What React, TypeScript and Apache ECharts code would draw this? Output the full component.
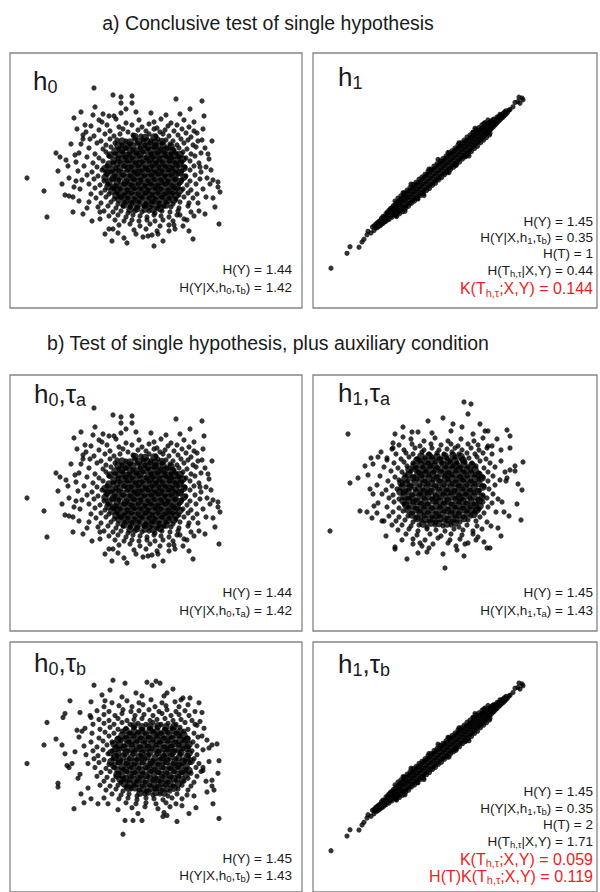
import React, { useEffect, useRef } from "react";
import * as echarts from "echarts";

// ---------- titles & labels ----------
const titleA = "a) Conclusive test of single hypothesis";
const titleB = "b) Test of single hypothesis, plus auxiliary condition";
const panelLabels = ["h_0", "h_1", "h_0,τ_a", "h_1,τ_a", "h_0,τ_b", "h_1,τ_b"];

const notesP1 = ["H(Y) = 1.44", "H(Y|X,h_0,τ_b) = 1.42"];
const notesP2 = ["H(Y) = 1.45", "H(Y|X,h_1,τ_b) = 0.35", "H(T) = 1", "H(T_{h,τ}|X,Y) = 0.44"];
const redP2 = ["K(T_{h,τ};X,Y) = 0.144"];
const notesP3 = ["H(Y) = 1.44", "H(Y|X,h_0,τ_a) = 1.42"];
const notesP4 = ["H(Y) = 1.45", "H(Y|X,h_1,τ_a) = 1.43"];
const notesP5 = ["H(Y) = 1.45", "H(Y|X,h_0,τ_b) = 1.43"];
const notesP6 = ["H(Y) = 1.45", "H(Y|X,h_1,τ_b) = 0.35", "H(T) = 2", "H(T_{h,τ}|X,Y) = 1.71"];
const redP6 = ["K(T_{h,τ};X,Y) = 0.059", "H(T)K(T_{h,τ};X,Y) = 0.119"];

// ---------- data: cloud A (h0 and h0,τa) ----------
const cloudAOut = [
  [-5.1,8.7],[-3.2,8.0],[-2.4,7.8],[-2.4,7.2],[-1.3,7.9],[-1.3,7.2],[3.1,7.6],[5.7,7.4],[4.5,6.6],[-6.4,6.3],[-7.1,5.7],
  [-5.2,6.0],[-4.2,6.1],[-3.6,5.9],[-3.1,5.9],[-2.4,6.2],[-11.8,-0.3],[-10.1,-1.6],[-9.8,-4.2],[-8.9,2.2],[-8.5,1.8],
  [-7.9,1.5],[-8.7,0.4],[-8.3,-0.9],[-7.2,-3.7],[-8.0,-2.0],[-7.6,-2.1],[-7.2,-2.2],[5.2,4.2],[5.8,4.6],[6.0,2.7],
  [5.5,0.8],[6.2,-0.3],[6.8,-0.5],[7.3,-0.7],[7.3,-1.2],[7.5,-1.7],[6.8,-2.3],[7.0,-3.2],[7.4,-4.9],[4.8,-6.4],
  [1.8,-6.6],[0.7,-6.0],[0.3,-6.1],[-0.2,-6.2],[-1.8,-6.8],[-2.1,-6.3],[-4.5,-4.4],[3.8,-5.1],[5.3,-2.8],[3.2,-4.0],
  [-4.5,-3.7],[-6.9,-0.6],[-6.2,3.6],[6.4,1.6],[-5.8,-3.3],[4.9,-4.1],[2.4,-5.6],[-3.6,-5.4],
  [-6.8,4.6],[-7.4,3.1],[-7.7,0.9],[-7.1,-1.2],[-6.6,-2.6],[-5.3,-4.6],[-4.0,-5.9],[-2.7,-5.8],[-0.9,-5.9],[1.3,-5.9],
  [2.9,-5.0],[3.9,-4.4],[5.4,-3.6],[6.1,-2.2],[6.5,-0.9],[6.6,0.5],[6.3,2.1],[5.7,3.5],[4.9,5.3],[3.5,6.1],[2.1,6.0],
  [0.6,6.2],[-0.9,6.3],[-1.9,6.6],[-4.6,5.5],[-6.0,5.0],[-7.0,2.0],[-6.2,-3.9],[-3.3,-6.6],[4.4,-5.6],[6.0,-3.9],
  [5.9,5.9],[-5.0,6.8],[0.9,-7.1],[-7.6,-0.3],[6.7,3.4]
];
const cloudACore = [
  [-4.3,5.3],[-2.9,5.6],[-1.9,5.2],[-0.6,5.5],[0.9,5.3],[1.6,5.6],[2.6,5.2],[3.9,5.5],
  [-5.4,4.9],[-3.8,5.0],[-2.6,4.8],[-1.3,5.0],[-0.3,4.8],[0.4,5.1],[1.2,4.7],[2.3,4.9],[3.2,5.0],[4.4,4.8],
  [-5.9,4.3],[-4.6,4.5],[-3.5,4.4],[-2.2,4.6],[-1.7,4.3],[-0.7,4.5],[0.1,4.4],[0.9,4.6],[1.5,4.3],[2.0,4.5],[2.9,4.4],[3.7,4.6],[4.9,4.4],
  [-6.2,4.0],[-5.1,3.9],[-4.0,4.1],[-3.1,3.9],[-2.5,4.1],[-1.2,4.0],[-0.4,3.9],[0.4,4.1],[1.1,3.9],[1.8,4.1],[2.4,3.9],[3.3,4.0],[4.1,4.2],[4.6,3.8],
  [-5.5,3.6],[-4.4,3.4],[-3.5,3.6],[-2.8,3.5],[-1.9,3.4],[-1.0,3.6],[-0.2,3.5],[0.6,3.4],[1.3,3.6],[2.1,3.5],[2.8,3.4],[3.6,3.6],[4.3,3.5],[5.3,3.4],
  [-6.4,3.1],[-4.8,3.2],[-3.9,3.0],[-3.0,3.2],[-2.3,3.0],[-1.5,3.1],[-0.8,3.2],[0.0,3.0],[0.5,3.2],[1.2,3.0],[1.7,3.2],[2.5,3.1],[3.2,3.0],[3.9,3.2],[4.8,3.0],
  [-5.6,2.7],[-4.2,2.6],[-3.4,2.8],[-2.6,2.6],[-1.9,2.7],[-1.2,2.5],[-0.5,2.7],[0.3,2.6],[0.9,2.8],[1.5,2.6],[2.2,2.7],[2.9,2.5],[3.4,2.7],[4.2,2.6],[5.1,2.8],
  [-6.6,2.2],[-5.0,2.1],[-3.9,2.3],[-3.0,2.1],[-2.2,2.3],[-1.6,2.1],[-0.9,2.2],[-0.2,2.3],[0.6,2.1],[1.2,2.2],[1.9,2.3],[2.6,2.1],[3.1,2.2],[3.8,2.3],[4.6,2.1],[5.6,2.2],
  [-5.8,1.8],[-4.6,1.7],[-3.6,1.9],[-2.7,1.7],[-2.0,1.8],[-1.3,1.7],[-0.6,1.9],[0.1,1.7],[0.8,1.8],[1.4,1.7],[2.1,1.9],[2.7,1.7],[3.4,1.8],[4.1,1.7],[5.0,1.9],
  [-6.9,1.3],[-5.2,1.2],[-4.2,1.4],[-3.2,1.2],[-2.5,1.3],[-1.8,1.4],[-1.0,1.2],[-0.3,1.3],[0.4,1.4],[1.1,1.2],[1.7,1.3],[2.4,1.4],[3.0,1.2],[3.7,1.3],[4.5,1.4],[5.4,1.2],
  [-6.1,0.9],[-4.8,0.8],[-3.8,0.9],[-2.9,0.7],[-2.1,0.9],[-1.4,0.8],[-0.7,0.9],[0.0,0.7],[0.7,0.9],[1.4,0.8],[2.0,0.9],[2.7,0.7],[3.3,0.9],[4.0,0.8],[4.9,0.9],[6.1,0.8],
  [-6.7,0.4],[-5.3,0.3],[-4.3,0.5],[-3.4,0.3],[-2.6,0.4],[-1.8,0.5],[-1.1,0.3],[-0.4,0.4],[0.3,0.5],[1.0,0.3],[1.7,0.4],[2.3,0.5],[3.0,0.3],[3.7,0.4],[4.5,0.5],[5.6,0.3],
  [-5.8,0.0],[-4.7,-0.1],[-3.8,0.1],[-3.0,-0.1],[-2.2,0.0],[-1.5,-0.1],[-0.8,0.1],[-0.1,-0.1],[0.6,0.0],[1.3,0.1],[2.0,-0.1],[2.6,0.0],[3.3,0.1],[4.1,-0.1],[5.0,0.0],
  [-6.3,-0.5],[-5.1,-0.4],[-4.1,-0.6],[-3.3,-0.4],[-2.6,-0.5],[-1.8,-0.6],[-1.1,-0.4],[-0.4,-0.5],[0.3,-0.6],[0.9,-0.4],[1.6,-0.5],[2.3,-0.6],[3.0,-0.4],[3.7,-0.5],[4.5,-0.6],[5.5,-0.4],
  [-5.6,-0.9],[-4.5,-1.0],[-3.7,-0.9],[-2.9,-1.1],[-2.1,-0.9],[-1.4,-1.0],[-0.7,-0.9],[0.0,-1.1],[0.6,-0.9],[1.3,-1.0],[2.0,-0.9],[2.7,-1.1],[3.4,-0.9],[4.2,-1.0],[5.1,-0.9],
  [-6.5,-1.4],[-5.0,-1.3],[-4.0,-1.5],[-3.2,-1.3],[-2.5,-1.4],[-1.8,-1.5],[-1.1,-1.3],[-0.4,-1.4],[0.3,-1.5],[1.0,-1.3],[1.6,-1.4],[2.3,-1.5],[3.0,-1.3],[3.8,-1.4],[4.6,-1.5],[5.8,-1.4],
  [-5.4,-1.9],[-4.4,-1.8],[-3.6,-1.9],[-2.8,-1.8],[-2.1,-2.0],[-1.4,-1.8],[-0.7,-1.9],[0.0,-1.8],[0.7,-2.0],[1.3,-1.8],[2.0,-1.9],[2.7,-1.8],[3.4,-2.0],[4.3,-1.8],[5.2,-1.9],
  [-4.9,-2.3],[-3.9,-2.2],[-3.1,-2.4],[-2.4,-2.2],[-1.7,-2.3],[-1.0,-2.4],[-0.3,-2.2],[0.4,-2.3],[1.0,-2.4],[1.7,-2.2],[2.4,-2.3],[3.1,-2.4],[3.9,-2.2],[4.8,-2.3],
  [-5.6,-2.7],[-4.4,-2.8],[-3.4,-2.7],[-2.7,-2.9],[-2.0,-2.7],[-1.3,-2.8],[-0.6,-2.7],[0.1,-2.9],[0.7,-2.7],[1.4,-2.8],[2.1,-2.7],[2.8,-2.9],[3.5,-2.7],[4.4,-2.8],
  [-4.7,-3.2],[-3.7,-3.1],[-2.9,-3.3],[-2.2,-3.1],[-1.5,-3.2],[-0.8,-3.3],[-0.1,-3.1],[0.5,-3.2],[1.2,-3.3],[1.9,-3.1],[2.6,-3.2],[3.4,-3.3],[4.3,-3.1],
  [-4.1,-3.6],[-3.2,-3.7],[-2.4,-3.6],[-1.7,-3.8],[-1.0,-3.6],[-0.3,-3.7],[0.4,-3.6],[1.0,-3.8],[1.7,-3.6],[2.5,-3.7],[3.3,-3.6],[4.6,-3.7],
  [-3.6,-4.1],[-2.7,-4.0],[-1.9,-4.2],[-1.2,-4.0],[-0.5,-4.1],[0.2,-4.2],[0.9,-4.0],[1.6,-4.1],[2.4,-4.2],[3.5,-4.0],
  [-3.0,-4.5],[-2.1,-4.6],[-1.3,-4.5],[-0.6,-4.6],[0.2,-4.5],[1.0,-4.6],[1.8,-4.5],[2.8,-4.6],[4.2,-4.5],
  [-2.6,-5.0],[-1.5,-4.9],[-0.5,-5.1],[0.5,-4.9],[1.5,-5.1],[2.4,-5.0],
  [-3.2,-5.4],[-1.1,-5.5],[0.1,-5.4],[1.2,-5.6],[3.0,-5.4]
];
const cloudAFill = [
  [-1.0,3.85],[0.0,3.75],[0.9,3.8],
  [-2.3,3.4],[-1.5,3.3],[-0.6,3.35],[0.2,3.4],[1.0,3.3],[1.7,3.35],
  [-2.7,2.95],[-1.9,2.85],[-1.2,2.9],[-0.4,2.95],[0.3,2.85],[1.0,2.9],[1.8,2.95],[2.6,2.85],
  [-3.0,2.4],[-2.3,2.5],[-1.5,2.45],[-0.8,2.4],[-0.1,2.5],[0.6,2.45],[1.3,2.4],[2.0,2.5],[2.7,2.45],
  [-3.5,2.0],[-2.6,2.05],[-1.9,1.95],[-1.2,2.0],[-0.5,2.05],[0.3,1.95],[0.9,2.0],[1.6,2.05],[2.3,1.95],[3.0,2.0],[3.5,2.05],
  [-3.1,1.5],[-2.3,1.6],[-1.6,1.55],[-0.9,1.5],[-0.2,1.6],[0.5,1.55],[1.1,1.5],[1.8,1.6],[2.5,1.55],[3.2,1.5],[3.8,1.6],
  [-3.6,1.1],[-2.8,1.15],[-2.0,1.05],[-1.3,1.1],[-0.6,1.15],[0.1,1.05],[0.8,1.1],[1.4,1.15],[2.1,1.05],[2.8,1.1],[3.5,1.15],
  [-4.0,0.65],[-3.3,0.6],[-2.5,0.7],[-1.7,0.65],[-1.0,0.6],[-0.3,0.7],[0.4,0.65],[1.0,0.6],[1.7,0.7],[2.4,0.65],[3.1,0.6],[3.9,0.7],
  [-3.8,0.2],[-3.0,0.25],[-2.2,0.15],[-1.4,0.2],[-0.7,0.25],[0.0,0.15],[0.7,0.2],[1.4,0.25],[2.0,0.15],[2.7,0.2],[3.5,0.25],
  [-4.0,-0.25],[-3.2,-0.3],[-2.5,-0.2],[-1.8,-0.25],[-1.1,-0.3],[-0.4,-0.2],[0.3,-0.25],[1.0,-0.3],[1.7,-0.2],[2.3,-0.25],[3.0,-0.3],[3.9,-0.2],
  [-3.6,-0.7],[-2.8,-0.65],[-2.0,-0.75],[-1.3,-0.7],[-0.6,-0.65],[0.1,-0.75],[0.8,-0.7],[1.5,-0.65],[2.1,-0.75],[2.8,-0.7],[3.5,-0.65],
  [-3.7,-1.15],[-3.1,-1.2],[-2.4,-1.1],[-1.7,-1.15],[-1.0,-1.2],[-0.3,-1.1],[0.4,-1.15],[1.1,-1.2],[1.8,-1.1],[2.5,-1.15],[3.2,-1.2],
  [-3.3,-1.6],[-2.7,-1.55],[-2.0,-1.65],[-1.3,-1.6],[-0.6,-1.55],[0.1,-1.65],[0.8,-1.6],[1.5,-1.55],[2.2,-1.65],[2.9,-1.6],[3.5,-1.55],
  [-2.9,-2.05],[-2.4,-2.1],[-1.7,-2.0],[-1.0,-2.05],[-0.3,-2.1],[0.4,-2.0],[1.1,-2.05],[1.8,-2.1],[2.5,-2.0],[3.1,-2.05],
  [-2.6,-2.45],[-1.9,-2.55],[-1.2,-2.5],[-0.5,-2.45],[0.2,-2.55],[0.9,-2.5],[1.6,-2.45],[2.3,-2.55],[2.9,-2.5],
  [-2.1,-3.0],[-1.4,-2.9],[-0.7,-2.95],[0.0,-3.0],[0.7,-2.9],[1.4,-2.95],[2.1,-3.0],
  [-1.5,-3.45],[-0.8,-3.35],[0.0,-3.4],[0.8,-3.45],[1.5,-3.35]
];

// ---------- data: cloud B (h1,τa) ----------
const cloudBOut = [
  [-11.2,-4.1],[-9.4,5.6],[-9.2,0.7],[2.2,8.8],[2.9,8.6],[2.6,7.6],[-1.4,6.9],[0.1,7.2],[-3.9,6.3],[1.1,6.6],[2.0,6.3],
  [3.8,6.6],[4.6,5.9],[6.5,6.0],[6.8,5.4],[5.9,4.0],[6.8,4.2],[8.1,2.8],[7.3,2.4],[7.3,1.9],[6.3,1.8],[6.5,1.2],
  [7.6,0.6],[8.0,0.0],[7.5,-1.4],[7.9,-3.0],[5.6,-3.8],[4.5,-5.8],[4.8,-5.8],[4.2,-5.2],[2.6,-5.3],[0.1,-6.4],
  [0.3,-7.8],[-1.5,-6.2],[-3.5,-6.9],[-4.7,-5.7],[-4.7,-5.9],[-2.9,-5.4],[-2.0,-5.6],[-5.0,-3.5],[-8.2,-2.1],
  [-7.5,-2.2],[-6.5,-2.3],[-7.7,2.4],[-7.1,3.2],[-6.4,3.3],[-5.5,3.0],[-8.4,1.2],[-7.4,1.5],[-4.9,4.2],[-4.7,5.6],
  [-3.9,5.3],[-6.9,-0.4],[-6.0,-3.1],[6.2,-2.2],[5.9,-4.6],[1.5,-6.0],[-2.4,5.8],[5.5,5.1],
  [-6.9,2.6],[-7.2,0.1],[-6.8,-1.6],[-5.8,-3.1],[-4.0,-5.0],[-1.3,-5.8],[1.4,-5.6],[3.6,-4.7],[4.9,-3.6],[6.0,-1.2],
  [6.4,0.9],[5.9,2.9],[5.0,4.4],[3.1,5.6],[0.9,5.9],[-1.0,5.7],[-3.0,5.8],[-4.9,4.7],[-6.1,3.8],[-7.0,-2.8],
  [6.7,-2.6],[-5.6,-4.6],[2.2,-6.6],[6.8,2.0],[-2.4,-6.3],[4.3,5.9]
];
const cloudBCore = [
  [-3.1,5.1],[-1.8,4.9],[-0.7,5.2],[0.6,4.9],[1.9,5.1],[3.2,4.9],[4.1,5.2],
  [-4.3,4.5],[-3.0,4.6],[-2.2,4.4],[-1.1,4.6],[-0.1,4.5],[0.9,4.6],[1.6,4.4],[2.6,4.6],[3.6,4.5],[4.6,4.4],
  [-5.0,4.1],[-3.8,4.0],[-2.7,4.2],[-1.8,4.0],[-1.0,4.2],[-0.3,4.0],[0.5,4.1],[1.3,4.2],[2.0,4.0],[2.9,4.2],[3.7,4.0],[4.5,4.2],
  [-4.6,3.6],[-3.6,3.7],[-2.9,3.6],[-2.0,3.8],[-1.3,3.6],[-0.5,3.7],[0.2,3.6],[1.0,3.8],[1.7,3.6],[2.5,3.7],[3.3,3.6],[4.1,3.7],[5.0,3.6],
  [-5.5,3.2],[-4.1,3.1],[-3.3,3.3],[-2.5,3.1],[-1.7,3.2],[-1.0,3.3],[-0.2,3.1],[0.5,3.2],[1.3,3.3],[2.0,3.1],[2.7,3.2],[3.5,3.3],[4.4,3.1],
  [-4.8,2.7],[-3.8,2.8],[-2.9,2.7],[-2.2,2.9],[-1.4,2.7],[-0.7,2.8],[0.0,2.7],[0.8,2.9],[1.5,2.7],[2.3,2.8],[3.0,2.7],[3.8,2.9],[4.8,2.7],
  [-5.8,2.3],[-4.4,2.2],[-3.5,2.4],[-2.6,2.2],[-1.9,2.3],[-1.1,2.4],[-0.4,2.2],[0.4,2.3],[1.1,2.4],[1.9,2.2],[2.6,2.3],[3.4,2.4],[4.2,2.2],[5.3,2.3],
  [-5.1,1.9],[-4.0,1.8],[-3.1,1.9],[-2.3,1.7],[-1.6,1.9],[-0.8,1.8],[-0.1,1.9],[0.7,1.7],[1.4,1.9],[2.2,1.8],[2.9,1.9],[3.7,1.7],[4.6,1.8],
  [-6.2,1.4],[-4.7,1.3],[-3.7,1.5],[-2.8,1.3],[-2.0,1.4],[-1.3,1.5],[-0.5,1.3],[0.3,1.4],[1.0,1.5],[1.8,1.3],[2.5,1.4],[3.3,1.5],[4.1,1.3],[5.1,1.4],
  [-5.4,0.9],[-4.3,1.0],[-3.4,0.9],[-2.5,1.1],[-1.7,0.9],[-0.9,1.0],[-0.2,0.9],[0.6,1.1],[1.4,0.9],[2.1,1.0],[2.9,0.9],[3.7,1.1],[4.6,0.9],[5.8,1.0],
  [-6.5,0.5],[-5.0,0.4],[-4.0,0.6],[-3.1,0.4],[-2.2,0.5],[-1.4,0.6],[-0.6,0.4],[0.2,0.5],[1.0,0.6],[1.7,0.4],[2.5,0.5],[3.3,0.6],[4.2,0.4],[5.3,0.5],
  [-5.6,0.0],[-4.5,0.1],[-3.6,-0.1],[-2.7,0.1],[-1.9,0.0],[-1.1,-0.1],[-0.3,0.1],[0.5,0.0],[1.3,-0.1],[2.1,0.1],[2.8,0.0],[3.7,-0.1],[4.7,0.1],
  [-6.0,-0.4],[-4.9,-0.5],[-3.9,-0.3],[-3.0,-0.5],[-2.2,-0.4],[-1.5,-0.3],[-0.7,-0.5],[0.1,-0.4],[0.9,-0.3],[1.7,-0.5],[2.4,-0.4],[3.2,-0.3],[4.1,-0.5],[5.1,-0.4],
  [-5.3,-0.8],[-4.3,-0.9],[-3.4,-0.8],[-2.6,-1.0],[-1.8,-0.8],[-1.0,-0.9],[-0.3,-0.8],[0.5,-1.0],[1.3,-0.8],[2.0,-0.9],[2.8,-0.8],[3.6,-1.0],[4.5,-0.8],[5.6,-0.9],
  [-6.4,-1.3],[-4.8,-1.2],[-3.8,-1.4],[-2.9,-1.2],[-2.1,-1.3],[-1.4,-1.4],[-0.6,-1.2],[0.2,-1.3],[0.9,-1.4],[1.7,-1.2],[2.4,-1.3],[3.2,-1.4],[4.1,-1.2],[5.0,-1.3],
  [-5.5,-1.7],[-4.3,-1.8],[-3.4,-1.7],[-2.5,-1.9],[-1.8,-1.7],[-1.0,-1.8],[-0.2,-1.7],[0.6,-1.9],[1.3,-1.7],[2.1,-1.8],[2.8,-1.7],[3.7,-1.9],[4.6,-1.7],
  [-4.9,-2.2],[-3.9,-2.1],[-3.0,-2.3],[-2.2,-2.1],[-1.4,-2.2],[-0.6,-2.3],[0.2,-2.1],[1.0,-2.2],[1.7,-2.3],[2.5,-2.1],[3.3,-2.2],[4.2,-2.3],[5.4,-2.2],
  [-5.3,-2.6],[-4.3,-2.7],[-3.4,-2.6],[-2.6,-2.8],[-1.8,-2.6],[-1.0,-2.7],[-0.3,-2.6],[0.5,-2.8],[1.3,-2.6],[2.1,-2.7],[2.9,-2.6],[3.8,-2.7],
  [-4.6,-3.1],[-3.7,-3.0],[-2.9,-3.2],[-2.1,-3.0],[-1.3,-3.1],[-0.6,-3.2],[0.2,-3.0],[1.0,-3.1],[1.8,-3.2],[2.6,-3.0],[3.4,-3.1],[4.5,-3.2],
  [-4.0,-3.5],[-3.1,-3.6],[-2.3,-3.5],[-1.5,-3.7],[-0.7,-3.5],[0.1,-3.6],[0.9,-3.5],[1.7,-3.7],[2.5,-3.5],[3.5,-3.6],
  [-4.4,-4.0],[-3.3,-3.9],[-2.4,-4.1],[-1.5,-3.9],[-0.6,-4.0],[0.3,-4.1],[1.2,-3.9],[2.1,-4.0],[3.1,-4.1],[4.0,-3.9],
  [-3.6,-4.4],[-2.5,-4.5],[-1.2,-4.4],[-0.1,-4.6],[0.9,-4.4],[2.0,-4.5],[3.1,-4.4],
  [-2.9,-4.9],[-1.7,-5.0],[-0.4,-4.8],[0.8,-5.0],[1.8,-4.9],[3.4,-5.0],
  [-2.2,-5.3],[-0.9,-5.4],[0.6,-5.3],[2.3,-5.4]
];
const cloudBFill = [
  [-2.1,3.4],[-1.3,3.45],[-0.5,3.35],[0.3,3.4],[1.1,3.45],[1.9,3.35],
  [-2.5,3.0],[-1.7,2.9],[-1.0,2.95],[-0.2,3.0],[0.6,2.9],[1.3,2.95],[2.1,3.0],
  [-2.8,2.45],[-2.1,2.55],[-1.4,2.5],[-0.7,2.45],[0.1,2.55],[0.8,2.5],[1.5,2.45],[2.2,2.55],[3.0,2.5],
  [-3.3,2.05],[-2.6,2.1],[-1.9,2.0],[-1.2,2.05],[-0.5,2.1],[0.3,2.0],[1.0,2.05],[1.7,2.1],[2.5,2.0],[3.3,2.05],
  [-3.3,1.55],[-2.4,1.65],[-1.7,1.6],[-0.9,1.55],[-0.1,1.65],[0.6,1.6],[1.4,1.55],[2.1,1.65],[2.9,1.6],[3.7,1.55],
  [-3.7,1.15],[-2.9,1.2],[-2.1,1.1],[-1.3,1.15],[-0.5,1.2],[0.3,1.1],[1.0,1.15],[1.8,1.2],[2.5,1.1],[3.3,1.15],[4.0,1.2],
  [-4.1,0.7],[-3.5,0.65],[-2.7,0.75],[-1.8,0.7],[-1.0,0.65],[-0.2,0.75],[0.6,0.7],[1.4,0.65],[2.1,0.75],[2.9,0.7],[3.7,0.65],
  [-4.0,0.25],[-3.2,0.3],[-2.3,0.2],[-1.5,0.25],[-0.7,0.3],[0.1,0.2],[0.9,0.25],[1.7,0.3],[2.4,0.2],[3.2,0.25],[4.1,0.3],
  [-4.2,-0.2],[-3.4,-0.15],[-2.6,-0.25],[-1.8,-0.2],[-1.1,-0.15],[-0.3,-0.25],[0.5,-0.2],[1.3,-0.15],[2.0,-0.25],[2.8,-0.2],[3.6,-0.15],
  [-3.8,-0.65],[-3.0,-0.7],[-2.2,-0.6],[-1.4,-0.65],[-0.6,-0.7],[0.2,-0.6],[0.9,-0.65],[1.7,-0.7],[2.4,-0.6],[3.2,-0.65],[4.0,-0.7],
  [-3.9,-1.1],[-3.3,-1.05],[-2.5,-1.15],[-1.7,-1.1],[-0.9,-1.05],[-0.2,-1.15],[0.6,-1.1],[1.4,-1.05],[2.1,-1.15],[2.9,-1.1],[3.7,-1.05],
  [-3.6,-1.55],[-2.9,-1.6],[-2.1,-1.5],[-1.4,-1.55],[-0.6,-1.6],[0.2,-1.5],[1.0,-1.55],[1.7,-1.6],[2.5,-1.5],[3.3,-1.55],[3.8,-1.6],
  [-3.4,-2.0],[-2.6,-1.95],[-1.8,-2.05],[-1.0,-2.0],[-0.2,-1.95],[0.6,-2.05],[1.4,-2.0],[2.1,-1.95],[2.9,-2.05],[3.5,-2.0],
  [-3.0,-2.5],[-2.2,-2.4],[-1.4,-2.45],[-0.6,-2.5],[0.1,-2.4],[0.9,-2.45],[1.7,-2.5],[2.5,-2.4],[3.2,-2.45],
  [-2.5,-2.85],[-1.7,-2.95],[-0.9,-2.9],[-0.2,-2.85],[0.6,-2.95],[1.4,-2.9],[2.2,-2.85],
  [-1.9,-3.4],[-1.1,-3.3],[-0.3,-3.35],[0.5,-3.4],[1.3,-3.3]
];

// ---------- data: cloud C (h0,τb) ----------
const cloudCOut = [
  [-12.1,-0.6],[-10.4,1.3],[-10.1,3.6],[-9.2,1.9],[-8.6,1.3],[-7.8,5.8],[-5.4,7.4],[-3.5,7.9],[-2.3,7.6],[-0.1,7.7],
  [0.4,7.4],[0.8,7.8],[1.2,7.6],[2.5,7.0],[3.5,6.1],[4.2,6.1],[-5.7,5.7],[-8.5,4.1],[-8.3,4.5],[5.4,4.6],[5.2,3.7],
  [4.9,3.3],[5.4,2.2],[5.9,1.8],[6.4,1.3],[6.9,1.4],[7.1,-0.3],[5.5,-1.0],[5.5,-1.3],[7.0,-1.6],[6.4,-2.3],[6.4,-2.9],
  [6.5,-4.7],[7.1,-6.2],[2.9,-6.5],[1.5,-6.0],[1.9,-5.9],[-0.6,-6.4],[-1.5,-6.4],[-2.3,-6.4],[-2.5,-7.8],[-7.4,-5.2],
  [-9.0,-2.6],[-9.0,-3.0],[-6.7,-3.7],[-8.1,-0.8],[-7.9,-1.0],[-8.3,0.4],[-5.0,-4.7],[-4.0,-4.7],[-6.6,2.7],
  [-7.0,-2.1],[-4.6,6.4],[1.9,6.6],[5.9,-3.5],[4.8,-5.1],[-5.7,-4.2],[-1.2,6.6],
  [-6.8,4.6],[-7.1,2.8],[-7.3,0.6],[-6.8,-1.7],[-6.0,-3.1],[-4.4,-4.1],[-3.0,-5.3],[-1.0,-5.7],[1.6,-5.6],[3.4,-4.9],
  [4.6,-3.9],[5.8,-2.4],[6.1,-0.4],[6.1,1.0],[5.6,3.0],[4.7,4.7],[3.3,5.9],[1.6,6.3],[-0.6,6.3],[-2.6,6.2],
  [-4.3,5.8],[-5.7,4.1],[-6.4,-4.6],[4.1,-5.7],[6.6,-3.3],[-7.6,-0.6],[5.1,5.6],[-3.8,6.9]
];
const cloudCCore = [
  [-3.6,5.6],[-2.1,5.8],[-0.9,5.6],[0.3,5.9],[1.4,5.6],[2.7,5.7],
  [-4.4,5.2],[-2.9,5.3],[-1.6,5.2],[-0.5,5.4],[0.7,5.2],[1.8,5.3],[3.1,5.2],[4.0,5.4],
  [-5.1,4.8],[-3.9,4.7],[-2.5,4.9],[-1.7,4.7],[-0.9,4.8],[0.1,4.9],[1.1,4.7],[1.9,4.9],[2.8,4.7],[3.7,4.8],
  [-5.8,4.3],[-4.4,4.4],[-3.3,4.3],[-2.6,4.5],[-1.3,4.3],[-0.4,4.4],[0.5,4.3],[1.4,4.5],[2.3,4.3],[3.1,4.4],[4.1,4.3],
  [-4.9,3.9],[-3.9,3.8],[-3.0,4.0],[-2.1,3.8],[-1.4,3.9],[-0.6,4.0],[0.2,3.8],[0.9,3.9],[1.7,4.0],[2.5,3.8],[3.3,3.9],[4.4,3.8],
  [-5.5,3.4],[-4.4,3.5],[-3.4,3.4],[-2.6,3.6],[-1.8,3.4],[-1.0,3.5],[-0.2,3.4],[0.5,3.6],[1.3,3.4],[2.0,3.5],[2.8,3.4],[3.7,3.6],[4.7,3.4],
  [-6.3,3.0],[-4.8,2.9],[-3.8,3.1],[-3.0,2.9],[-2.2,3.0],[-1.4,3.1],[-0.6,2.9],[0.2,3.0],[0.9,3.1],[1.7,2.9],[2.4,3.0],[3.2,3.1],[4.0,2.9],
  [-5.6,2.5],[-4.3,2.6],[-3.4,2.5],[-2.6,2.7],[-1.8,2.5],[-1.0,2.6],[-0.3,2.5],[0.5,2.7],[1.3,2.5],[2.0,2.6],[2.8,2.5],[3.6,2.7],[4.6,2.5],
  [-6.9,2.1],[-4.9,2.0],[-3.9,2.2],[-3.0,2.0],[-2.2,2.1],[-1.4,2.2],[-0.7,2.0],[0.1,2.1],[0.9,2.2],[1.6,2.0],[2.4,2.1],[3.2,2.2],[4.0,2.0],[5.0,2.1],
  [-5.7,1.6],[-4.5,1.7],[-3.6,1.6],[-2.7,1.8],[-1.9,1.6],[-1.1,1.7],[-0.3,1.6],[0.5,1.8],[1.2,1.6],[2.0,1.7],[2.8,1.6],[3.6,1.8],[4.5,1.6],
  [-6.4,1.2],[-5.1,1.1],[-4.1,1.3],[-3.2,1.1],[-2.4,1.2],[-1.6,1.3],[-0.8,1.1],[0.0,1.2],[0.8,1.3],[1.6,1.1],[2.4,1.2],[3.1,1.3],[4.0,1.1],[4.9,1.2],
  [-5.5,0.7],[-4.5,0.8],[-3.6,0.7],[-2.8,0.9],[-2.0,0.7],[-1.2,0.8],[-0.4,0.7],[0.4,0.9],[1.2,0.7],[2.0,0.8],[2.7,0.7],[3.5,0.9],[4.4,0.7],[5.5,0.8],
  [-6.2,0.3],[-5.0,0.2],[-4.0,0.4],[-3.1,0.2],[-2.3,0.3],[-1.5,0.4],[-0.7,0.2],[0.1,0.3],[0.9,0.4],[1.6,0.2],[2.4,0.3],[3.2,0.4],[4.0,0.2],[4.9,0.3],
  [-5.4,-0.1],[-4.4,-0.2],[-3.5,-0.1],[-2.7,-0.3],[-1.9,-0.1],[-1.1,-0.2],[-0.3,-0.1],[0.5,-0.3],[1.3,-0.1],[2.0,-0.2],[2.8,-0.1],[3.7,-0.3],[4.6,-0.1],
  [-6.0,-0.6],[-4.9,-0.5],[-3.9,-0.7],[-3.0,-0.5],[-2.2,-0.6],[-1.4,-0.7],[-0.6,-0.5],[0.2,-0.6],[1.0,-0.7],[1.7,-0.5],[2.5,-0.6],[3.3,-0.7],[4.2,-0.5],[5.1,-0.6],
  [-5.3,-1.0],[-4.2,-1.1],[-3.4,-1.0],[-2.5,-1.2],[-1.7,-1.0],[-0.9,-1.1],[-0.1,-1.0],[0.7,-1.2],[1.5,-1.0],[2.2,-1.1],[3.0,-1.0],[3.8,-1.2],[4.8,-1.0],
  [-4.7,-1.5],[-3.8,-1.4],[-2.9,-1.6],[-2.1,-1.4],[-1.3,-1.5],[-0.5,-1.6],[0.3,-1.4],[1.1,-1.5],[1.9,-1.6],[2.6,-1.4],[3.4,-1.5],[4.3,-1.6],[5.3,-1.4],
  [-5.1,-1.9],[-4.1,-2.0],[-3.2,-1.9],[-2.4,-2.1],[-1.6,-1.9],[-0.8,-2.0],[0.0,-1.9],[0.8,-2.1],[1.5,-1.9],[2.3,-2.0],[3.1,-1.9],[4.0,-2.1],[4.9,-1.9],
  [-4.4,-2.4],[-3.5,-2.3],[-2.7,-2.5],[-1.9,-2.3],[-1.1,-2.4],[-0.3,-2.5],[0.5,-2.3],[1.2,-2.4],[2.0,-2.5],[2.8,-2.3],[3.6,-2.4],[4.6,-2.5],
  [-4.8,-2.8],[-3.8,-2.9],[-3.0,-2.8],[-2.2,-3.0],[-1.4,-2.8],[-0.6,-2.9],[0.2,-2.8],[0.9,-3.0],[1.7,-2.8],[2.5,-2.9],[3.4,-2.8],[4.3,-2.9],
  [-4.2,-3.3],[-3.2,-3.2],[-2.5,-3.4],[-1.7,-3.2],[-0.9,-3.3],[-0.1,-3.4],[0.7,-3.2],[1.4,-3.3],[2.2,-3.4],[3.0,-3.2],[4.0,-3.3],
  [-3.6,-3.7],[-2.7,-3.8],[-1.9,-3.7],[-1.1,-3.9],[-0.3,-3.7],[0.5,-3.8],[1.2,-3.7],[2.0,-3.9],[2.9,-3.7],[3.9,-3.8],
  [-2.9,-4.2],[-2.0,-4.1],[-1.1,-4.3],[-0.2,-4.1],[0.6,-4.2],[1.5,-4.3],[2.4,-4.1],[3.4,-4.2],
  [-2.2,-4.6],[-1.2,-4.7],[-0.2,-4.6],[0.8,-4.7],[1.8,-4.6],[2.8,-4.7],
  [-1.6,-5.1],[-0.3,-5.0],[1.0,-5.2],[2.2,-5.0]
];
const cloudCFill = [
  [-1.4,3.25],[-0.6,3.15],[0.2,3.2],[1.0,3.25],[1.8,3.15],[2.6,3.2],
  [-2.2,2.8],[-1.4,2.7],[-0.6,2.75],[0.2,2.8],[0.9,2.7],[1.7,2.75],[2.5,2.8],[3.2,2.7],
  [-2.6,2.25],[-1.8,2.35],[-1.0,2.3],[-0.2,2.25],[0.6,2.35],[1.3,2.3],[2.1,2.25],[2.9,2.35],[3.6,2.3],
  [-3.0,1.85],[-2.2,1.9],[-1.5,1.8],[-0.7,1.85],[0.1,1.9],[0.9,1.8],[1.6,1.85],[2.4,1.9],[3.2,1.8],[3.9,1.85],
  [-3.4,1.4],[-2.8,1.35],[-2.0,1.45],[-1.2,1.4],[-0.4,1.35],[0.4,1.45],[1.2,1.4],[2.0,1.35],[2.7,1.45],[3.5,1.4],[4.1,1.35],
  [-3.2,0.95],[-2.4,1.0],[-1.6,0.9],[-0.8,0.95],[0.0,1.0],[0.8,0.9],[1.6,0.95],[2.3,1.0],[3.1,0.9],[3.9,0.95],
  [-3.7,0.5],[-3.0,0.45],[-2.2,0.55],[-1.4,0.5],[-0.6,0.45],[0.2,0.55],[1.0,0.5],[1.8,0.45],[2.5,0.55],[3.3,0.5],[4.1,0.45],
  [-3.3,0.05],[-2.5,0.1],[-1.7,0.0],[-0.9,0.05],[-0.1,0.1],[0.7,0.0],[1.5,0.05],[2.3,0.1],[3.1,0.0],[3.9,0.05],
  [-3.7,-0.4],[-2.9,-0.35],[-2.1,-0.45],[-1.3,-0.4],[-0.5,-0.35],[0.3,-0.45],[1.1,-0.4],[1.9,-0.35],[2.7,-0.45],[3.5,-0.4],[4.3,-0.35],
  [-3.4,-0.85],[-2.6,-0.9],[-1.8,-0.8],[-1.0,-0.85],[-0.2,-0.9],[0.6,-0.8],[1.4,-0.85],[2.2,-0.9],[3.0,-0.8],[3.8,-0.85],
  [-3.0,-1.3],[-2.2,-1.25],[-1.4,-1.35],[-0.6,-1.3],[0.2,-1.25],[1.0,-1.35],[1.8,-1.3],[2.6,-1.25],[3.4,-1.35],[4.1,-1.3],
  [-3.1,-1.75],[-2.6,-1.8],[-1.8,-1.7],[-1.0,-1.75],[-0.2,-1.8],[0.6,-1.7],[1.4,-1.75],[2.2,-1.8],[3.0,-1.7],[3.8,-1.75],
  [-2.8,-2.2],[-2.2,-2.15],[-1.4,-2.25],[-0.6,-2.2],[0.2,-2.15],[1.0,-2.25],[1.8,-2.2],[2.6,-2.15],[3.4,-2.25],
  [-2.4,-2.65],[-1.8,-2.7],[-1.0,-2.6],[-0.2,-2.65],[0.6,-2.7],[1.4,-2.6],[2.2,-2.65],[3.0,-2.7],
  [-2.0,-3.1],[-1.3,-3.05],[-0.5,-3.15],[0.3,-3.1],[1.1,-3.05],[1.9,-3.15],[2.6,-3.1],
  [-0.8,-3.6],[0.0,-3.5],[0.8,-3.55],[1.6,-3.6]
];

// ---------- data: line (h1 and h1,τb) ----------
const lineD = [
  [-10.9,-11.2],[-9.3,-9.5],[-9.0,-8.75],[-8.1,-8.8],[-7.8,-8.2],[-7.6,-7.9],[-7.3,-7.4],[-7.2,-7.0],[-6.9,-7.2],[-6.75,-6.5],
  [-6.6,-6.9],[-6.6,-6.4],[-6.45,-6.6],[-6.45,-6.2],[-6.3,-6.6],[-6.3,-6.05],[-6.15,-6.45],[-6.15,-5.9],[-6.0,-6.35],[-6.0,-5.8],[-6.0,-6.05],
  [-5.85,-6.2],[-5.85,-5.5],[-5.7,-6.1],[-5.7,-5.65],[-5.7,-5.3],[-5.55,-5.9],[-5.55,-5.35],[-5.4,-5.85],[-5.4,-5.3],[-5.4,-4.95],
  [-5.25,-5.6],[-5.25,-5.05],[-5.25,-4.8],[-5.1,-5.65],[-5.1,-5.05],[-5.1,-4.6],[-4.95,-5.3],[-4.95,-4.8],[-4.95,-4.4],
  [-4.8,-5.4],[-4.8,-4.85],[-4.8,-4.3],[-4.65,-5.1],[-4.65,-4.55],[-4.65,-4.05],[-4.5,-5.1],[-4.5,-4.6],[-4.5,-4.1],
  [-4.35,-4.8],[-4.35,-4.25],[-4.35,-3.75],[-4.2,-4.85],[-4.2,-4.3],[-4.2,-3.7],[-4.05,-4.6],[-4.05,-4.0],[-4.05,-3.45],
  [-3.9,-4.55],[-3.9,-3.95],[-3.9,-3.35],[-3.75,-4.3],[-3.75,-3.7],[-3.75,-3.15],[-3.6,-4.25],[-3.6,-3.55],[-3.6,-3.0],
  [-3.45,-4.1],[-3.45,-3.45],[-3.45,-2.85],[-3.3,-3.95],[-3.3,-3.25],[-3.3,-2.65],[-3.15,-3.8],[-3.15,-3.15],[-3.15,-2.5],
  [-3.0,-3.7],[-3.0,-3.05],[-3.0,-2.35],[-2.85,-3.5],[-2.85,-2.8],[-2.85,-2.2],[-2.7,-3.4],[-2.7,-2.75],[-2.7,-2.05],
  [-2.55,-3.2],[-2.55,-2.5],[-2.55,-1.9],[-2.4,-3.1],[-2.4,-2.45],[-2.4,-1.7],[-2.25,-2.95],[-2.25,-2.2],[-2.25,-1.6],
  [-2.1,-2.8],[-2.1,-2.15],[-2.1,-1.4],[-1.95,-2.6],[-1.95,-1.9],[-1.95,-1.3],[-1.8,-2.5],[-1.8,-1.85],[-1.8,-1.1],
  [-1.65,-2.35],[-1.65,-1.6],[-1.65,-0.95],[-1.5,-2.2],[-1.5,-1.55],[-1.5,-0.8],[-1.35,-2.05],[-1.35,-1.3],[-1.35,-0.65],
  [-1.2,-1.9],[-1.2,-1.25],[-1.2,-0.5],[-1.05,-1.75],[-1.05,-1.0],[-1.05,-0.35],[-0.9,-1.6],[-0.9,-0.95],[-0.9,-0.2],
  [-0.75,-1.45],[-0.75,-0.7],[-0.75,-0.05],[-0.6,-1.3],[-0.6,-0.65],[-0.6,0.1],[-0.45,-1.15],[-0.45,-0.4],[-0.45,0.25],
  [-0.3,-1.0],[-0.3,-0.35],[-0.3,0.4],[-0.15,-0.85],[-0.15,-0.1],[-0.15,0.55],[0,-0.7],[0,-0.05],[0,0.7],
  [0.15,-0.55],[0.15,0.2],[0.15,0.8],[0.3,-0.4],[0.3,0.25],[0.3,1.0],[0.45,-0.25],[0.45,0.5],[0.45,1.1],
  [0.6,-0.1],[0.6,0.55],[0.6,1.3],[0.75,0.05],[0.75,0.8],[0.75,1.4],[0.9,0.2],[0.9,0.85],[0.9,1.6],
  [1.05,0.35],[1.05,1.1],[1.05,1.7],[1.2,0.5],[1.2,1.15],[1.2,1.9],[1.35,0.65],[1.35,1.4],[1.35,2.0],
  [1.5,0.8],[1.5,1.45],[1.5,2.2],[1.65,0.95],[1.65,1.7],[1.65,2.3],[1.8,1.1],[1.8,1.75],[1.8,2.5],
  [1.95,1.3],[1.95,2.0],[1.95,2.6],[2.1,1.4],[2.1,2.05],[2.1,2.8],[2.25,1.6],[2.25,2.3],[2.25,2.9],
  [2.4,1.7],[2.4,2.35],[2.4,3.05],[2.55,1.9],[2.55,2.6],[2.55,3.2],[2.7,2.0],[2.7,2.65],[2.7,3.35],
  [2.85,2.2],[2.85,2.9],[2.85,3.45],[3.0,2.3],[3.0,2.95],[3.0,3.6],[3.15,2.5],[3.15,3.2],[3.15,3.75],
  [3.3,2.65],[3.3,3.25],[3.3,3.9],[3.45,2.85],[3.45,3.5],[3.45,4.0],[3.6,2.95],[3.6,3.55],[3.6,4.2],
  [3.75,3.15],[3.75,3.8],[3.75,4.3],[3.9,3.3],[3.9,3.85],[3.9,4.45],[4.05,3.5],[4.05,4.1],[4.05,4.6],
  [4.2,3.6],[4.2,4.15],[4.2,4.75],[4.35,3.8],[4.35,4.4],[4.35,4.85],[4.5,3.95],[4.5,4.45],[4.5,5.0],
  [4.65,4.15],[4.65,4.7],[4.65,5.15],[4.8,4.3],[4.8,4.75],[4.8,5.3],[4.95,4.5],[4.95,5.0],[4.95,5.4],
  [5.1,4.65],[5.1,5.05],[5.1,5.55],[5.25,4.85],[5.25,5.3],[5.25,5.7],[5.4,5.0],[5.4,5.35],[5.4,5.8],
  [5.55,5.2],[5.55,5.7],[5.7,5.35],[5.7,5.75],[5.7,6.05],[5.85,5.55],[5.85,6.0],[6.0,5.7],[6.0,6.1],[6.0,6.35],
  [6.15,5.9],[6.15,6.3],[6.3,6.0],[6.3,6.45],[6.45,6.2],[6.45,6.6],[6.6,6.35],[6.6,6.75],[6.75,6.55],[6.9,6.8],
  [7.0,6.9],[7.3,7.2],[7.5,7.7],[7.8,7.8],[8.0,7.6],[8.2,8.2],[8.3,8.0],[7.9,8.3],
  [-3.7,-2.6],[-1.1,0.1],[1.6,0.5],[3.3,4.3],[-2.2,-3.3],[0.8,2.0],[2.6,1.6],[4.4,5.3],[-4.4,-5.2],[5.0,4.2]
];
const lineDEdge = [
  [-4.5,-3.55],[-4.2,-3.2],[-3.9,-2.95],[-3.6,-2.6],[-3.3,-2.3],[-3.0,-2.0],[-2.7,-1.65],[-2.4,-1.4],[-2.1,-1.05],[-1.8,-0.8],
  [-1.5,-0.5],[-1.2,-0.15],[-0.9,0.1],[-0.6,0.45],[-0.3,0.7],[0.0,1.05],[0.3,1.3],[0.6,1.6],[0.9,1.95],[1.2,2.2],
  [1.5,2.5],[1.8,2.85],[2.1,3.1],[2.4,3.4],[2.7,3.75],[3.0,4.0],[3.3,4.3],[3.6,4.6],[3.9,4.85],[4.2,5.15],[4.5,5.4],[4.8,5.7],
  [-4.35,-5.3],[-4.05,-5.0],[-3.75,-4.75],[-3.45,-4.4],[-3.15,-4.15],[-2.85,-3.8],[-2.55,-3.55],[-2.25,-3.25],[-1.95,-2.9],
  [-1.65,-2.7],[-1.35,-2.35],[-1.05,-2.1],[-0.75,-1.75],[-0.45,-1.5],[-0.15,-1.15],[0.15,-0.9],[0.45,-0.55],[0.75,-0.3],
  [1.05,0.05],[1.35,0.3],[1.65,0.65],[1.95,0.9],[2.25,1.25],[2.55,1.5],[2.85,1.85],[3.15,2.1],[3.45,2.45],[3.75,2.7],
  [4.05,3.1],[4.35,3.4],[4.65,3.7],[4.95,4.0],
  [-2.9,-1.6],[-0.2,1.2],[1.9,3.1],[3.5,4.75],[-1.6,-2.9],[0.9,-0.3],[2.9,1.6],[-3.5,-4.7]
];

const FONT = "'Liberation Sans', Arial, Helvetica, sans-serif";

// convert "_x" / "_{xy}" subscripts into rich-text tokens
function toRich(s: string, n: string, sb: string): string {
  let out = "";
  let buf = "";
  let i = 0;
  while (i < s.length) {
    if (s[i] === "_") {
      if (buf) { out += `{${n}|${buf}}`; buf = ""; }
      let sub = "";
      if (s[i + 1] === "{") {
        const j = s.indexOf("}", i + 2);
        sub = s.slice(i + 2, j);
        i = j + 1;
      } else {
        sub = s[i + 1];
        i += 2;
      }
      out += `{${sb}|${sub}}`;
    } else {
      buf += s[i];
      i++;
    }
  }
  if (buf) out += `{${n}|${buf}}`;
  return out;
}

const richStyles = {
  n: { fontSize: 13.5, lineHeight: 16, fill: "#1a1a1a", fontFamily: FONT },
  s: { fontSize: 9.5, lineHeight: 8, fill: "#1a1a1a", fontFamily: FONT, verticalAlign: "bottom" },
  r: { fontSize: 16, lineHeight: 19, fill: "#f01c1c", fontFamily: FONT },
  rs: { fontSize: 11, lineHeight: 10, fill: "#f01c1c", fontFamily: FONT, verticalAlign: "bottom" },
  L: { fontSize: 26, lineHeight: 30, fill: "#1a1a1a", fontFamily: FONT },
  Ls: { fontSize: 18, lineHeight: 19, fill: "#1a1a1a", fontFamily: FONT, verticalAlign: "bottom" },
};

function textEl(str: string, x: number, y: number, kind: "n" | "r" | "L", align: string) {
  const sb = kind === "n" ? "s" : kind === "r" ? "rs" : "Ls";
  return {
    type: "text",
    x,
    y,
    silent: true,
    style: {
      text: toRich(str, kind, sb),
      rich: richStyles,
      align,
      textAlign: align,
      verticalAlign: "middle",
      textVerticalAlign: "middle",
    },
  };
}

export default function App() {
  const ref = useRef<HTMLDivElement>(null);

  useEffect(() => {
    if (!ref.current) return;
    const chart = echarts.init(ref.current, undefined, { renderer: "svg" });

    const grids = [
      { left: 10, top: 53, width: 292, height: 255 },
      { left: 313, top: 53, width: 284, height: 255 },
      { left: 10, top: 375, width: 292, height: 256 },
      { left: 313, top: 375, width: 284, height: 256 },
      { left: 10, top: 642, width: 292, height: 255 },
      { left: 313, top: 642, width: 284, height: 255 },
    ];
    const ranges = [
      { x: [-13.5, 15.7], y: [-13.3, 12.2] },
      { x: [-12.7, 15.7], y: [-15.74, 13.34] },
      { x: [-13.5, 15.7], y: [-13.6, 12.0] },
      { x: [-12.9, 15.5], y: [-14.1, 11.5] },
      { x: [-13.8, 15.4], y: [-13.7, 11.8] },
      { x: [-12.7, 15.7], y: [-16.0, 13.08] },
    ];
    // [scattered points, dense-core points] per panel
    const panelData = [
      [[...cloudAOut, ...cloudACore], cloudAFill],
      [[...lineD, ...lineDEdge], []],
      [[...cloudAOut, ...cloudACore], cloudAFill],
      [[...cloudBOut, ...cloudBCore], cloudBFill],
      [[...cloudCOut, ...cloudCCore], cloudCFill],
      [[...lineD, ...lineDEdge], []],
    ];

    const series: any[] = [];
    panelData.forEach(([main, core], i) => {
      series.push({
        type: "scatter", xAxisIndex: i, yAxisIndex: i, data: main,
        symbol: "circle", symbolSize: 5.2, itemStyle: { color: "#000000" }, silent: true,
      });
      if (core.length) {
        series.push({
          type: "scatter", xAxisIndex: i, yAxisIndex: i, data: core,
          symbol: "circle", symbolSize: 7.6, itemStyle: { color: "#000000" }, silent: true,
        });
      }
    });

    const graphic: any[] = [];
    graphic.push({
      type: "text", x: 268, y: 23, silent: true,
      style: { text: titleA, fill: "#1a1a1a", font: `19.5px ${FONT}`, align: "center", textAlign: "center", verticalAlign: "middle", textVerticalAlign: "middle" },
    });
    graphic.push({
      type: "text", x: 268, y: 343, silent: true,
      style: { text: titleB, fill: "#1a1a1a", font: `19.5px ${FONT}`, align: "center", textAlign: "center", verticalAlign: "middle", textVerticalAlign: "middle" },
    });

    const labelPos = [[33, 81], [338, 77], [34, 394], [338, 393], [34, 663], [338, 664]];
    panelLabels.forEach((lab, i) => graphic.push(textEl(lab, labelPos[i][0], labelPos[i][1], "L", "left")));

    const addLines = (lines: string[], ys: number[], xr: number, kind: "n" | "r") =>
      lines.forEach((t, i) => graphic.push(textEl(t, xr, ys[i], kind, "right")));

    addLines(notesP1, [269, 287], 292, "n");
    addLines(notesP2, [221, 237, 253.5, 270], 593, "n");
    addLines(redP2, [288.5], 593, "r");
    addLines(notesP3, [592, 610], 292, "n");
    addLines(notesP4, [592, 610], 593, "n");
    addLines(notesP5, [858, 875.5], 292, "n");
    addLines(notesP6, [791.5, 808, 824.5, 841], 593, "n");
    addLines(redP6, [859, 876], 593, "r");

    chart.setOption({
      animation: false,
      backgroundColor: "#ffffff",
      grid: grids.map((g) => ({ ...g, show: true, borderColor: "#858585", borderWidth: 1.3, backgroundColor: "transparent" })),
      xAxis: ranges.map((r, i) => ({ type: "value", gridIndex: i, min: r.x[0], max: r.x[1], show: false, splitLine: { show: false } })),
      yAxis: ranges.map((r, i) => ({ type: "value", gridIndex: i, min: r.y[0], max: r.y[1], show: false, splitLine: { show: false } })),
      series,
      graphic,
    });

    return () => chart.dispose();
  }, []);

  return <div ref={ref} style={{ position: "fixed", left: 0, top: 0, width: 600, height: 892 }} />;
}
